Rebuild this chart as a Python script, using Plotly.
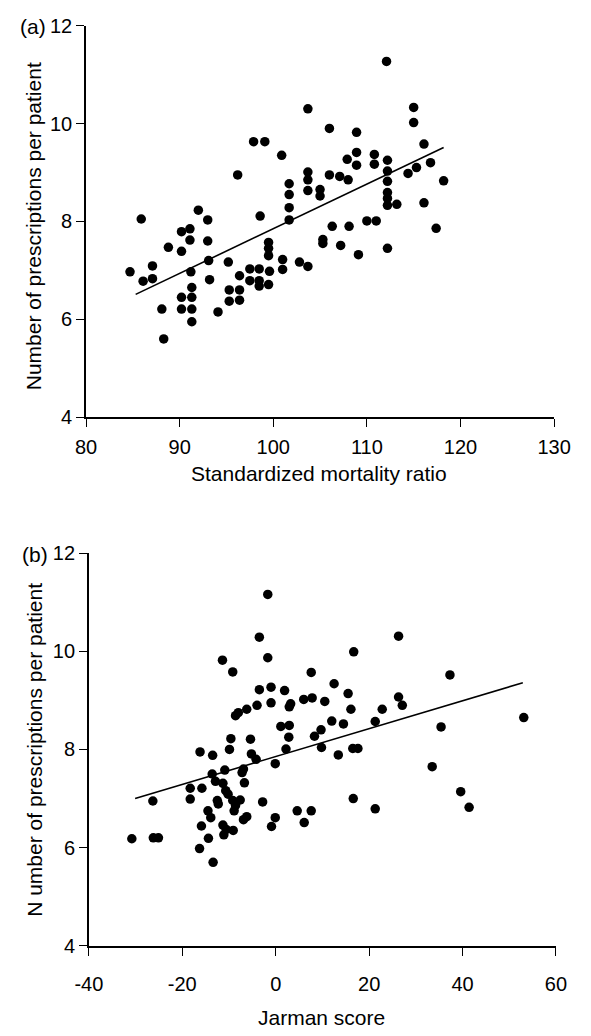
import plotly.graph_objects as go

# panel (a): standardized mortality ratio vs prescriptions
smr = [103.7, 97.9, 99.1, 100.9, 96.2, 101.7, 101.7, 101.7, 101.7, 103.7, 103.7, 103.7,
       85.9, 92.0, 93.0, 98.6, 112.1, 115.0, 115.0, 106.0, 108.9, 116.1, 108.9, 108.9,
       107.9, 110.8, 110.8, 112.2, 112.2, 112.2, 112.2, 112.2, 112.2, 113.2, 114.4, 115.3,
       116.8, 118.2, 116.1, 106.0, 107.1, 108.0, 105.0, 105.0, 84.7, 86.1, 87.1, 87.1,
       88.8, 90.2, 91.1, 91.1, 90.2, 93.0, 93.1, 93.2, 91.2, 91.3, 91.3, 91.3, 91.3,
       90.2, 90.2, 88.1, 88.3, 94.1, 95.2, 95.3, 95.3, 96.4, 96.4, 96.4, 97.5, 97.5,
       98.5, 98.5, 98.5, 99.5, 99.5, 99.5, 99.6, 99.5, 101.0, 101.0, 102.8, 103.7,
       105.3, 105.3, 106.3, 108.1, 107.2, 109.1, 110.0, 111.0, 112.2, 117.4]
rx_a = [10.3, 9.63, 9.63, 9.35, 8.95, 8.77, 8.55, 8.28, 8.03, 9.01, 8.85, 8.63,
        8.05, 8.23, 8.03, 8.11, 11.27, 10.33, 10.02, 9.9, 9.82, 9.58, 9.41, 9.15,
        9.27, 9.37, 9.17, 9.25, 9.03, 8.82, 8.59, 8.47, 8.33, 8.35, 8.98, 9.1,
        9.2, 8.83, 8.38, 8.95, 8.92, 8.85, 8.65, 8.52, 6.97, 6.78, 7.09, 6.83,
        7.47, 7.79, 7.85, 7.62, 7.39, 7.6, 7.2, 6.81, 6.97, 6.65, 6.45, 6.21, 5.95,
        6.45, 6.21, 6.21, 5.6, 6.15, 7.17, 6.6, 6.37, 6.89, 6.6, 6.39, 7.03, 6.79,
        7.03, 6.79, 6.68, 7.57, 7.45, 7.3, 6.98, 6.71, 7.22, 7.02, 7.17, 7.08,
        7.63, 7.55, 7.9, 7.9, 7.51, 7.32, 8.01, 8.01, 7.45, 7.86]
fit_a_x = [85.3, 118.2]
fit_a_y = [6.51, 9.51]

# panel (b): Jarman score vs prescriptions
jarman = [-1.7, -3.5, -1.7, -11.4, -9.2, 7.6, -3.5, -1.0, 1.9, -4.0, -1.0, -6.2, -8.0,
          -8.6, 2.9, 3.2, 6.0, 7.8, 26.3, 16.7, 12.5, 37.3, 10.5, 15.5, 16.1, 22.8, 26.3,
          27.1, 53.1, -30.8, -26.3, -26.2, -25.1, -18.3, -18.3, -15.8, -16.2, -13.5, -9.9,
          -9.6, -5.4, 1.1, 2.9, 2.8, 2.2, -0.1, 8.3, -5.2, -4.2, -6.9, -7.2, -10.9, -13.6,
          -12.9, -11.3, -10.7, -10.2, -6.7, -9.2, -7.6, -8.6, -8.9, -12.5, -12.3, -14.5,
          -13.9, -15.9, -14.4, -16.3, -13.4, -11.3, -10.6, -9.1, -11.1, -6.9, -6.2, -2.8,
          -0.1, -0.9, 4.6, 7.6, 6.1, 12.0, 14.5, 21.3, 35.4, 9.7, 9.8, 13.4, 16.5, 17.6,
          33.5, 16.6, 21.3, 39.6, 41.4]
rx_b = [11.16, 10.29, 9.87, 9.82, 9.58, 9.57, 9.22, 9.27, 9.2, 8.9, 8.95, 8.82, 8.75,
        8.69, 8.87, 8.93, 9.02, 9.05, 10.31, 9.99, 9.34, 9.52, 8.98, 9.14, 8.82, 8.82, 9.07,
        8.9, 8.65, 6.18, 6.95, 6.2, 6.2, 7.21, 6.99, 7.21, 7.95, 7.88, 8.0,
        8.22, 8.21, 8.47, 8.49, 8.25, 8.01, 7.71, 8.27, 7.91, 7.8, 7.6, 7.53, 7.58, 7.5,
        7.35, 7.31, 7.16, 7.09, 7.32, 6.96, 6.97, 6.86, 6.75, 6.96, 6.89, 6.75,
        6.61, 6.44, 6.19, 5.98, 5.7, 6.46, 6.37, 6.35, 6.26, 6.57, 6.63, 6.93,
        6.61, 6.43, 6.75, 6.75, 6.51, 8.58, 8.52, 8.57, 8.46, 8.4, 8.04, 7.89, 8.02, 8.02,
        7.65, 7.0, 6.79, 7.14, 6.82]
fit_b_x = [-30.1, 52.9]
fit_b_y = [7.0, 9.36]

smr_ticks = [80, 90, 100, 110, 120, 130]
jarman_ticks = [-40, -20, 0, 20, 40, 60]
rx_ticks = [4, 6, 8, 10, 12]

W, H = 591, 1036
FONT = "Liberation Sans, Arial, sans-serif"

fig = go.Figure()
dot = dict(color="black", size=9.5)
line = dict(color="black", width=1.6)

fig.add_trace(go.Scatter(x=smr, y=rx_a, mode="markers", marker=dot, xaxis="x", yaxis="y"))
fig.add_trace(go.Scatter(x=fit_a_x, y=fit_a_y, mode="lines", line=line, xaxis="x", yaxis="y"))
fig.add_trace(go.Scatter(x=jarman, y=rx_b, mode="markers", marker=dot, xaxis="x2", yaxis="y2"))
fig.add_trace(go.Scatter(x=fit_b_x, y=fit_b_y, mode="lines", line=line, xaxis="x2", yaxis="y2"))

ax = dict(showline=True, linecolor="black", linewidth=1.6, ticks="outside", ticklen=8,
          tickwidth=1.4, tickcolor="black", showgrid=False, zeroline=False,
          tickfont=dict(family=FONT, size=20, color="black"))

def px_x(p):
    return p / W

def px_y(p):
    return 1 - p / H

fig.update_layout(
    width=W, height=H, showlegend=False,
    margin=dict(l=0, r=0, t=0, b=0),
    paper_bgcolor="white", plot_bgcolor="white",
    xaxis=dict(ax, range=[80, 130], tickvals=smr_ticks,
               domain=[px_x(76), px_x(570)], anchor="y", ticklabelstandoff=3),
    yaxis=dict(ax, range=[4, 12], tickvals=rx_ticks,
               domain=[px_y(415), px_y(15)], anchor="x"),
    # plain hyphens as in the original, not unicode minus
    xaxis2=dict(ax, range=[-40, 60], tickvals=jarman_ticks,
                ticktext=[str(t) for t in jarman_ticks],
                domain=[px_x(79), px_x(572)], anchor="y2", ticklabelstandoff=11),
    yaxis2=dict(ax, range=[4, 12], tickvals=rx_ticks,
                domain=[px_y(955), px_y(554)], anchor="x2"),
)

notes = [
    ("(a)", 4, 16, 0, "left"),
    ("(b)", 6, 555, 0, "left"),
    ("Standardized mortality ratio", 322, 473, 0, "center"),
    ("Jarman score", 325, 1028, 0, "center"),
    ("Number of prescriptions per patient", 20, 220, -90, "center"),
    ("N umber of prescriptions per patient", 22, 755, -90, "center"),
]
for text, x, y, ang, align in notes:
    fig.add_annotation(text=text, x=px_x(x), y=px_y(y), xref="paper", yref="paper",
                       showarrow=False, textangle=ang,
                       xanchor=align if ang == 0 else "center", yanchor="middle",
                       font=dict(family=FONT, size=21, color="black"))

# page body has an 8px default margin; drop it so the figure fills the window
fig.write_html("out.html", config={"displayModeBar": False},
               post_script="document.body.style.margin='0';")
